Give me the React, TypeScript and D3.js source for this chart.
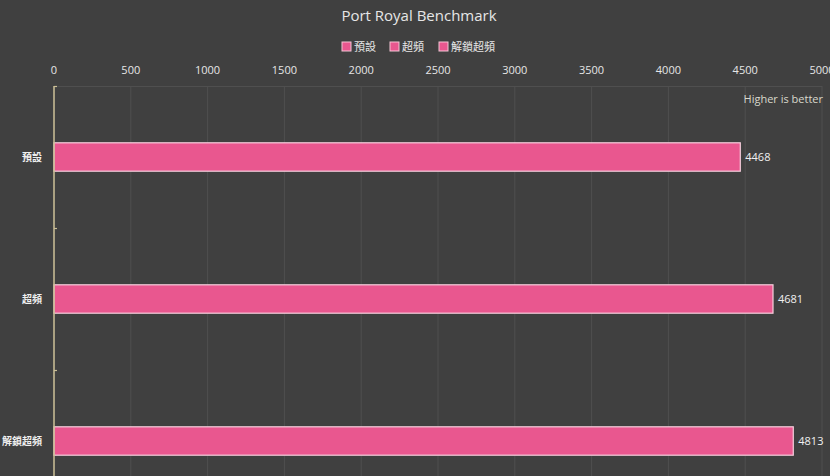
import React from 'react'
import * as d3 from 'd3'

const categories = ['預設', '超頻', '解鎖超頻']
const scores = [4468, 4681, 4813]
const xTicks = [0, 500, 1000, 1500, 2000, 2500, 3000, 3500, 4000, 4500, 5000]

const W = 830
const H = 476
const margin = { left: 54, top: 86, right: 8 }
const bandStep = 142

const font = '"Open Sans", "Noto Sans CJK TC", sans-serif'

export default function App() {
  const x = d3.scaleLinear().domain([0, 5000]).range([margin.left, W - margin.right])
  const y = d3.scaleBand<string>()
    .domain(categories)
    .range([margin.top, margin.top + bandStep * categories.length])
    .paddingInner(0.8)
    .paddingOuter(0.4)
  const barH = y.bandwidth()
  const plotBottom = margin.top + bandStep * categories.length

  return (
    <svg width={W} height={H} style={{ position: 'absolute', left: 0, top: 0, background: '#404040' }}>
      <rect x={0} y={0} width={W} height={H} fill="#404040" />
      <text x={W / 2 + 4} y={21} textAnchor="middle" fill="#e6e6e6" fontSize={15} fontFamily={font}>
        Port Royal Benchmark
      </text>

      {/* legend */}
      {categories.map((c, i) => {
        const offsets = [342, 390, 439]
        return <g key={c} transform={`translate(${offsets[i]}, 42)`}>
          <rect x={0} y={0} width={9} height={9} fill="#e9578f" stroke="#f3c4d4" strokeWidth={1} />
          <text x={12} y={9} fill="#e6e6e6" fontSize={11} fontFamily={font}>{c}</text>
        </g>
      })}

      {/* grid */}
      {xTicks.map(t => (
        <line key={t} x1={x(t)} x2={x(t)} y1={margin.top} y2={plotBottom} stroke="#4f4f4f" strokeWidth={1} />
      ))}
      <line x1={margin.left} x2={x(5000)} y1={margin.top + 0.5} y2={margin.top + 0.5} stroke="#4f4f4f" />

      {/* x tick labels */}
      {xTicks.map(t => (
        <text key={t} x={x(t)} y={74} textAnchor="middle" fill="#e6e6e6" fontSize={11} fontFamily={font}>{t}</text>
      ))}

      <text x={823} y={103} textAnchor="end" fill="#d8d8cc" fontSize={11} fontFamily={font}>Higher is better</text>

      {/* bars */}
      {categories.map((c, i) => {
        const by = y(c) as number
        return <g key={c}>
          <rect x={x(0)} y={by} width={x(scores[i]) - x(0)} height={barH}
            fill="#e9578f" stroke="#f5cfdc" strokeWidth={1.2} />
          <text x={x(scores[i]) + 5} y={by + barH / 2 + 4} fill="#f0f0f0" fontSize={11} fontFamily={font}>
            {scores[i]}
          </text>
          <text x={42} y={by + barH / 2 + 4} textAnchor="end" fill="#f0f0f0" fontSize={10} fontWeight="bold" fontFamily={font}>
            {c}
          </text>
        </g>
      })}

      {/* left axis */}
      <line x1={margin.left} x2={margin.left} y1={margin.top} y2={plotBottom} stroke="#cbbf96" strokeWidth={1.5} />
      {d3.range(categories.length + 1).map(i => (
        <line key={i} x1={margin.left} x2={margin.left + 3} y1={margin.top + i * bandStep + 0.5} y2={margin.top + i * bandStep + 0.5}
          stroke="#cbbf96" strokeWidth={1.2} />
      ))}
    </svg>
  )
}
